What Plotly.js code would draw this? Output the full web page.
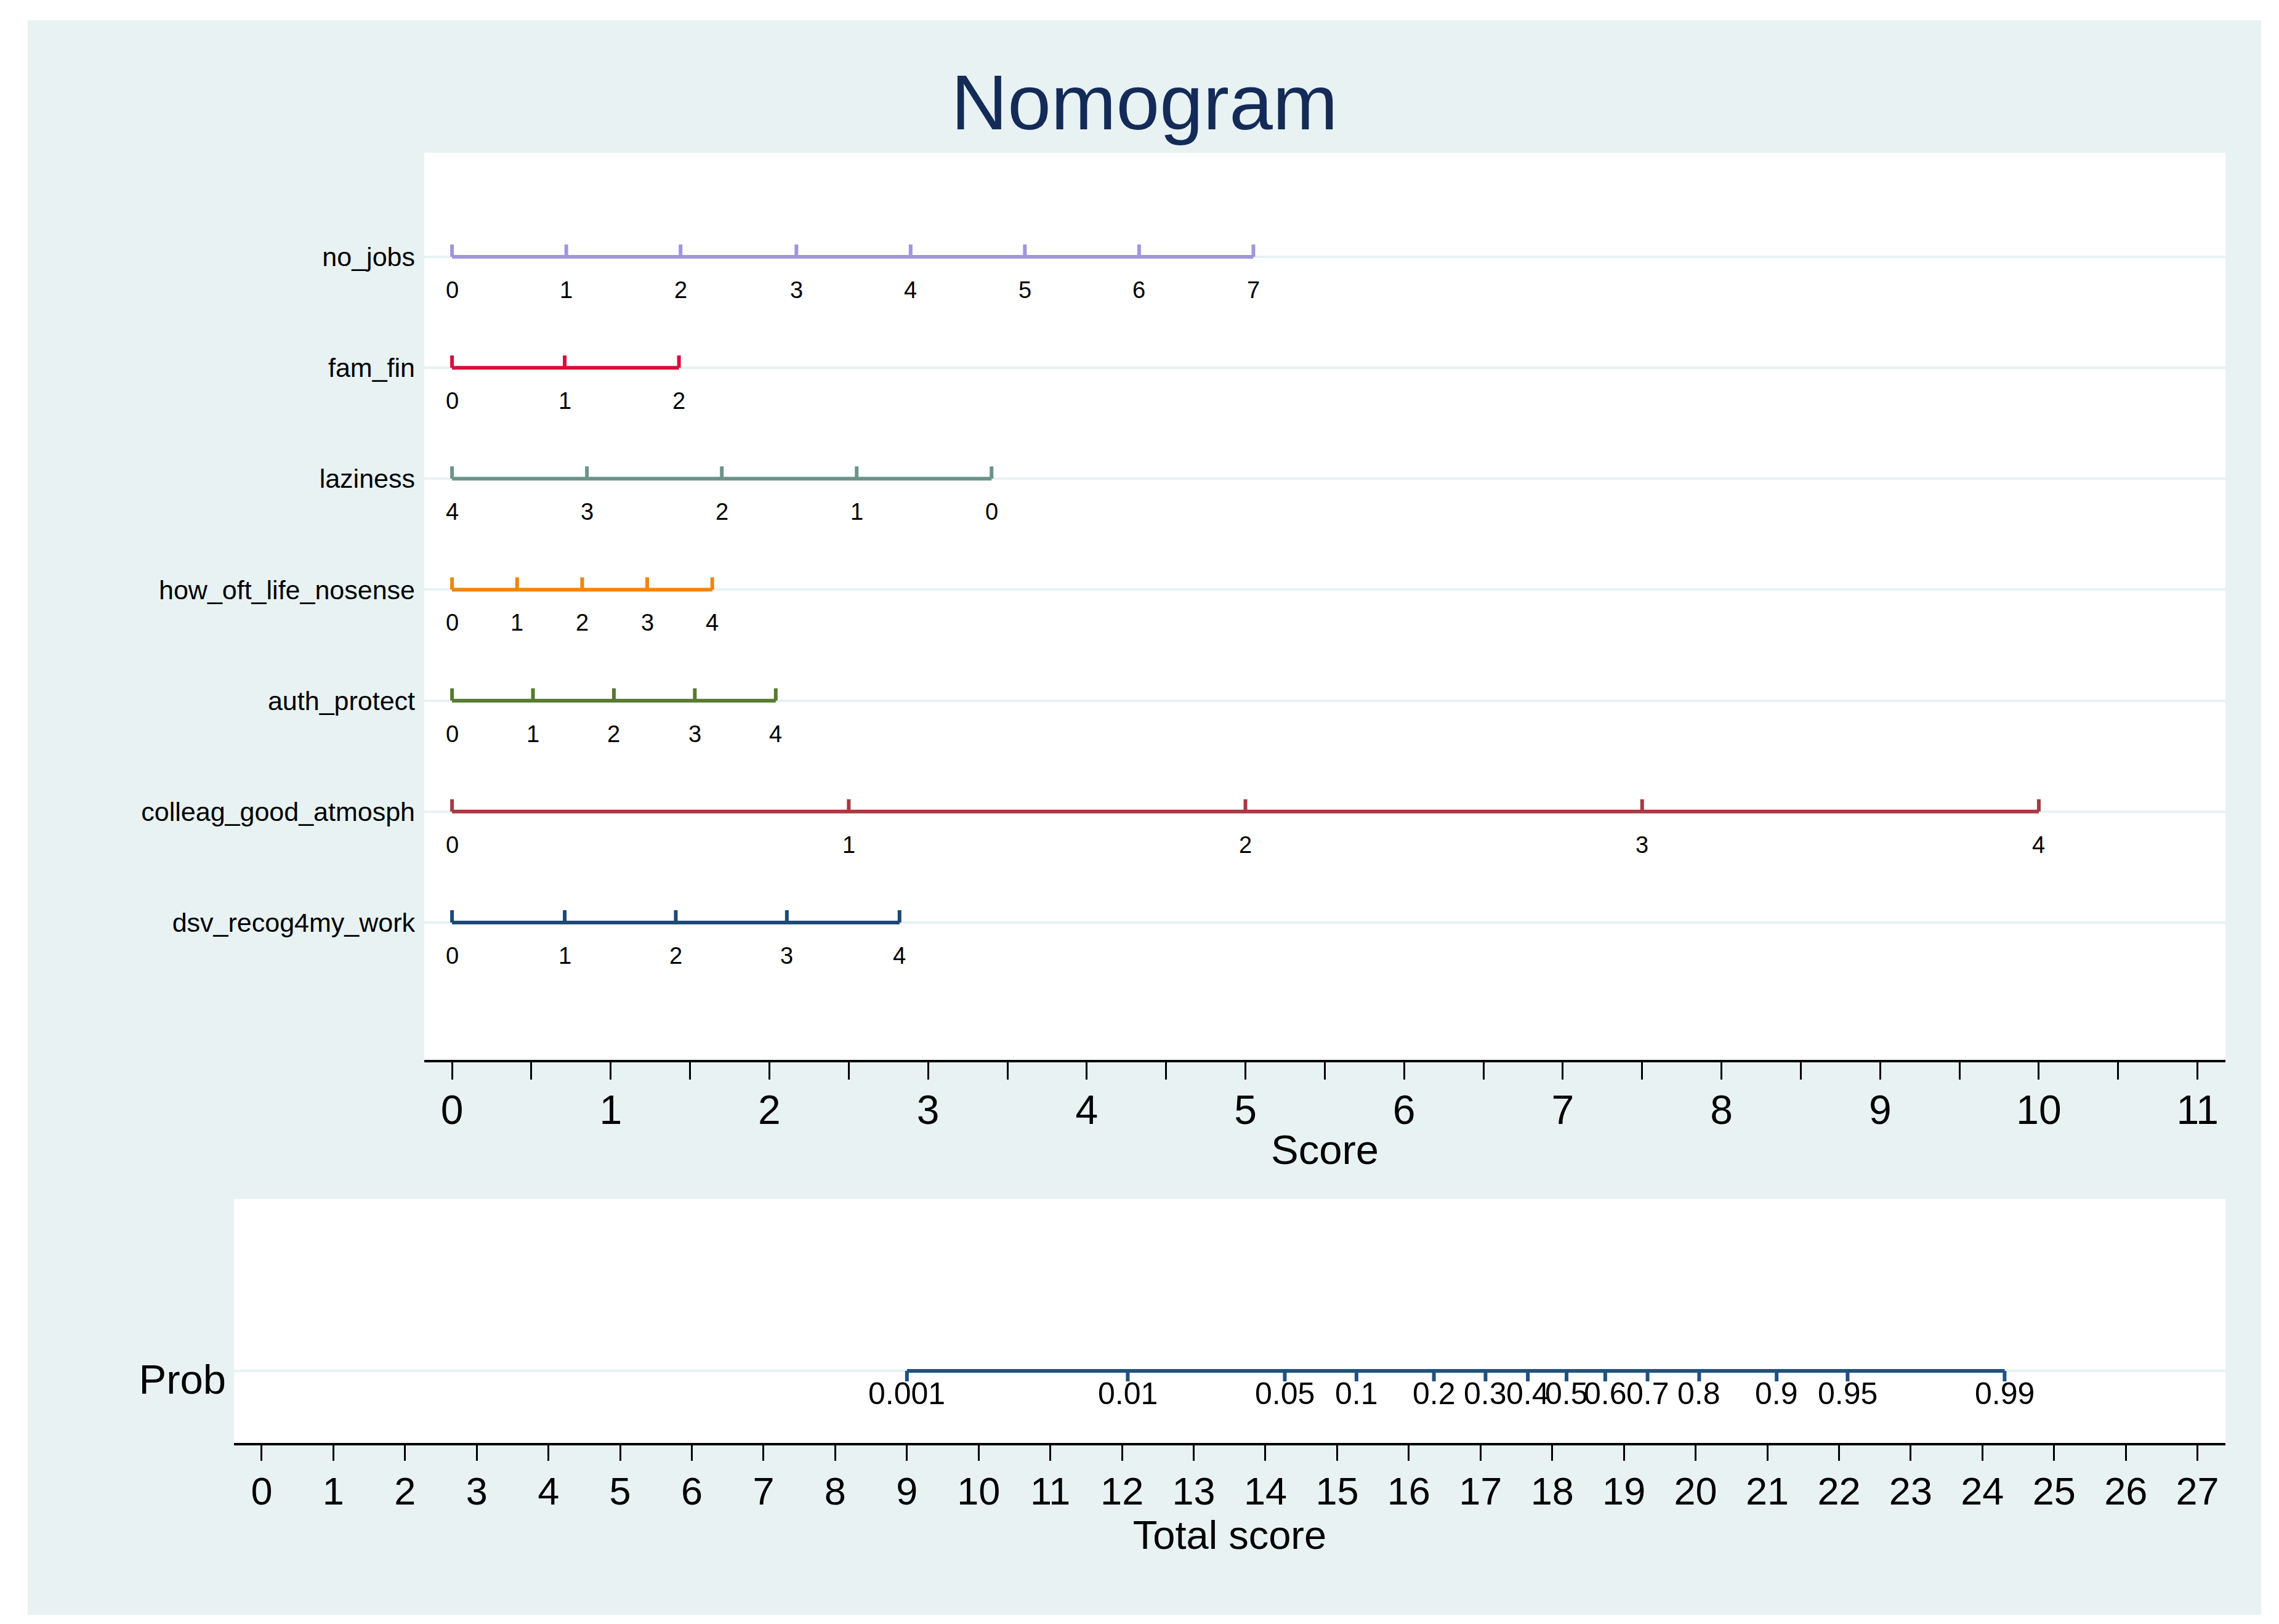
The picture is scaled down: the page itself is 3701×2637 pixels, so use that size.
<!DOCTYPE html>
<html><head><meta charset="utf-8">
<script src="https://cdn.plot.ly/plotly-3.0.1.min.js"></script>
<style>html,body{margin:0;padding:0;background:#ffffff;}#chart{position:absolute;left:45px;top:33px;width:3627px;height:2589px;}</style>
</head><body><div id="chart"></div>
<script>
// ---- data ----
const rowNames = ['no_jobs','fam_fin','laziness','how_oft_life_nosense','auth_protect','colleag_good_atmosph','dsv_recog4my_work'];

const noJobsVals  = [0,1,2,3,4,5,6,7];
const noJobsScore = [0,0.72,1.44,2.17,2.89,3.61,4.33,5.05];

const famFinVals  = [0,1,2];
const famFinScore = [0,0.71,1.43];

const lazinessVals  = [4,3,2,1,0];
const lazinessScore = [0,0.85,1.70,2.55,3.40];

const howOftVals  = [0,1,2,3,4];
const howOftScore = [0,0.41,0.82,1.23,1.64];

const authVals  = [0,1,2,3,4];
const authScore = [0,0.51,1.02,1.53,2.04];

const colleagVals  = [0,1,2,3,4];
const colleagScore = [0,2.5,5,7.5,10];

const dsvVals  = [0,1,2,3,4];
const dsvScore = [0,0.71,1.41,2.11,2.82];

const probLabels = ['0.001','0.01','0.05','0.1','0.2','0.3','0.4','0.5','0.6','0.7','0.8','0.9','0.95','0.99'];
const probTotal  = [9.0,12.08,14.27,15.27,16.35,17.07,17.66,18.2,18.74,19.33,20.05,21.13,22.12,24.31];

const scoreTicks = [0,1,2,3,4,5,6,7,8,9,10,11];
const totalTicks = [0,1,2,3,4,5,6,7,8,9,10,11,12,13,14,15,16,17,18,19,20,21,22,23,24,25,26,27];

// ---- styles ----
const FONT = 'Liberation Sans, Arial, sans-serif';
const rowColors = ['#a096dc','#dc0a3c','#6b9488','#f0860a','#557a30','#a83842','#1c4a76'];
const probColor = '#1f5280';
const bg = '#e8f2f3';

const rows = [
  [noJobsVals, noJobsScore],
  [famFinVals, famFinScore],
  [lazinessVals, lazinessScore],
  [howOftVals, howOftScore],
  [authVals, authScore],
  [colleagVals, colleagScore],
  [dsvVals, dsvScore]
];
const nRows = rowNames.length;
const rowY = rowNames.map((_, i) => nRows - i);

// integer ticks plus unlabeled half-steps, built from scoreTicks
const scoreTickVals = [];
const scoreTickText = [];
scoreTicks.forEach((t, i) => {
  scoreTickVals.push(t); scoreTickText.push(String(t));
  if (i < scoreTicks.length - 1) { scoreTickVals.push((t + scoreTicks[i + 1]) / 2); scoreTickText.push(''); }
});

const traces = [];
const annotations = [];
rows.forEach(([vals, sc], i) => {
  traces.push({
    type: 'scatter',
    x: sc, y: sc.map(() => rowY[i]), xaxis: 'x', yaxis: 'y',
    mode: 'lines', line: {color: rowColors[i], width: 6},
    error_y: {type: 'constant', value: 0.111, valueminus: 0, symmetric: false, width: 0, thickness: 6, color: rowColors[i]},
    hoverinfo: 'skip', showlegend: false
  });
  vals.forEach((v, k) => {
    annotations.push({x: sc[k], y: rowY[i], xref: 'x', yref: 'y', text: String(v), showarrow: false,
      yshift: -54, font: {family: FONT, size: 38, color: '#000'}});
  });
});

traces.push({
  type: 'scatter',
  x: probTotal, y: probTotal.map(() => 0), xaxis: 'x2', yaxis: 'y2',
  mode: 'lines', line: {color: probColor, width: 6},
  error_y: {type: 'constant', value: 0, valueminus: 0.043, symmetric: false, width: 0, thickness: 6, color: probColor},
  hoverinfo: 'skip', showlegend: false
});
probLabels.forEach((t, k) => {
  annotations.push({x: probTotal[k], y: 0, xref: 'x2', yref: 'y2', text: t, showarrow: false,
    yshift: -37, font: {family: FONT, size: 50, color: '#000'}});
});

const layout = {
  width: 3627, height: 2589,
  paper_bgcolor: bg, plot_bgcolor: '#ffffff',
  font: {family: FONT, color: '#000'},
  margin: {l: 335, r: 58, t: 215, b: 279, pad: 0},
  showlegend: false,
  title: {text: 'Nomogram', font: {family: FONT, size: 127, color: '#142b58'},
    xref: 'container', x: 0.5, xanchor: 'center', yref: 'container', y: 0.9488, yanchor: 'middle'},
  xaxis: {domain: [0.09555, 1], anchor: 'y', range: [-0.175, 11.176], autorange: false,
    tickmode: 'array', tickvals: scoreTickVals, ticktext: scoreTickText,
    ticks: 'outside', ticklen: 28, tickwidth: 3, tickcolor: '#000',
    showline: true, linecolor: '#000', linewidth: 4, showgrid: false, zeroline: false,
    tickfont: {family: FONT, size: 66, color: '#000'}, ticklabelstandoff: -7,
    title: {text: 'Score', font: {family: FONT, size: 67, color: '#000'}, standoff: 6},
    automargin: false},
  yaxis: {domain: [0.2969, 1], anchor: 'x', range: [-0.238, 7.938], autorange: false,
    tickmode: 'array', tickvals: rowY, ticktext: rowNames, ticks: '', showline: false,
    showgrid: true, gridcolor: bg, gridwidth: 4, zeroline: false,
    tickfont: {family: FONT, size: 43, color: '#000'}, ticklabelstandoff: 14, automargin: false},
  xaxis2: {domain: [0, 1], anchor: 'y2', range: [-0.386, 27.39], autorange: false,
    tickmode: 'array', tickvals: totalTicks, ticktext: totalTicks.map(String),
    ticks: 'outside', ticklen: 25, tickwidth: 3, tickcolor: '#000',
    showline: true, linecolor: '#000', linewidth: 4, showgrid: false, zeroline: false,
    tickfont: {family: FONT, size: 63, color: '#000'}, ticklabelstandoff: -5,
    title: {text: 'Total score', font: {family: FONT, size: 65, color: '#000'}, standoff: 0},
    automargin: false},
  yaxis2: {domain: [0, 0.189], anchor: 'x2', range: [-0.2955, 0.7045], autorange: false,
    tickmode: 'array', tickvals: [0], ticktext: ['Prob'], ticks: '', showline: false,
    showgrid: true, gridcolor: bg, gridwidth: 4, zeroline: false,
    tickfont: {family: FONT, size: 67, color: '#000'}, ticklabelstandoff: 12, ticklabelshift: 14,
    automargin: false},
  annotations: annotations
};

Plotly.newPlot('chart', traces, layout, {staticPlot: true, displayModeBar: false});
</script>
</body></html>
